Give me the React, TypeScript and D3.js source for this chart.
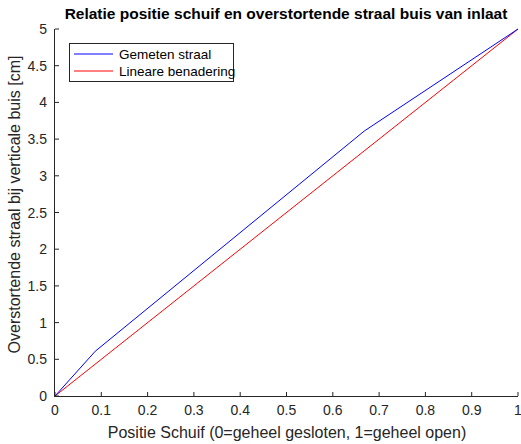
import React from "react";
import * as d3 from "d3";

const measuredX = [0, 0.087, 0.668, 1];
const measuredY = [0, 0.61, 3.61, 5];
const linearX = [0, 1];
const linearY = [0, 5];
const xTicks = [0, 0.1, 0.2, 0.3, 0.4, 0.5, 0.6, 0.7, 0.8, 0.9, 1];
const yTicks = [0, 0.5, 1, 1.5, 2, 2.5, 3, 3.5, 4, 4.5, 5];
const seriesNames = ["Gemeten straal", "Lineare benadering"];
const seriesColors = ["#0000ff", "#ff0000"];

export default function App() {
  const W = 521, H = 444;
  const left = 55, right = 518, top = 29, bottom = 396;
  const x = d3.scaleLinear().domain([0, 1]).range([left, right]);
  const y = d3.scaleLinear().domain([0, 5]).range([bottom, top]);
  const line = d3.line<[number, number]>().x(d => x(d[0])).y(d => y(d[1]));
  const meas = measuredX.map((v, i) => [v, measuredY[i]] as [number, number]);
  const lin = linearX.map((v, i) => [v, linearY[i]] as [number, number]);
  const ax = "#262626";
  const font = "'Liberation Sans', Arial, Helvetica, sans-serif";
  return (
    <svg width={W} height={H} style={{ position: "absolute", left: 0, top: 0, background: "#fff" }} fontFamily={font}>
      <rect width={W} height={H} fill="#fff" />
      <text x={286} y={19} textAnchor="middle" fontSize={15.5} fontWeight="bold" fill="#000">
        Relatie positie schuif en overstortende straal buis van inlaat
      </text>
      <path d={line(lin)!} fill="none" stroke={seriesColors[1]} strokeWidth={1} />
      <path d={line(meas)!} fill="none" stroke={seriesColors[0]} strokeWidth={1} />
      <line x1={left} x2={right} y1={bottom + 0.5} y2={bottom + 0.5} stroke={ax} />
      <line x1={left - 0.5} x2={left - 0.5} y1={top} y2={bottom + 1} stroke={ax} />
      {xTicks.map(t => (
        <g key={"x" + t}>
          <line x1={x(t)} x2={x(t)} y1={bottom} y2={bottom - 4} stroke={ax} />
          <text x={x(t)} y={bottom + 19} textAnchor="middle" fontSize={14} fill={ax}>{t}</text>
        </g>
      ))}
      {yTicks.map(t => (
        <g key={"y" + t}>
          <line x1={left} x2={left + 4} y1={y(t)} y2={y(t)} stroke={ax} />
          <text x={left - 8} y={y(t) + 5} textAnchor="end" fontSize={14} fill={ax}>{t}</text>
        </g>
      ))}
      <text x={287} y={438} textAnchor="middle" fontSize={16} fill={ax}>
        Positie Schuif (0=geheel gesloten, 1=geheel open)
      </text>
      <text transform={`translate(20,${(top + bottom) / 2 - 8}) rotate(-90)`} textAnchor="middle" fontSize={16} fill={ax}>
        Overstortende straal bij verticale buis [cm]
      </text>
      <rect x={69.5} y={43.5} width={164} height={38} fill="#fff" stroke={ax} />
      {seriesNames.map((n, i) => (
        <g key={n}>
          <line x1={74} x2={113} y1={54 + i * 17} y2={54 + i * 17} stroke={seriesColors[i]} />
          <text x={119} y={58.5 + i * 17} fontSize={13.5} fill="#000">{n}</text>
        </g>
      ))}
    </svg>
  );
}
